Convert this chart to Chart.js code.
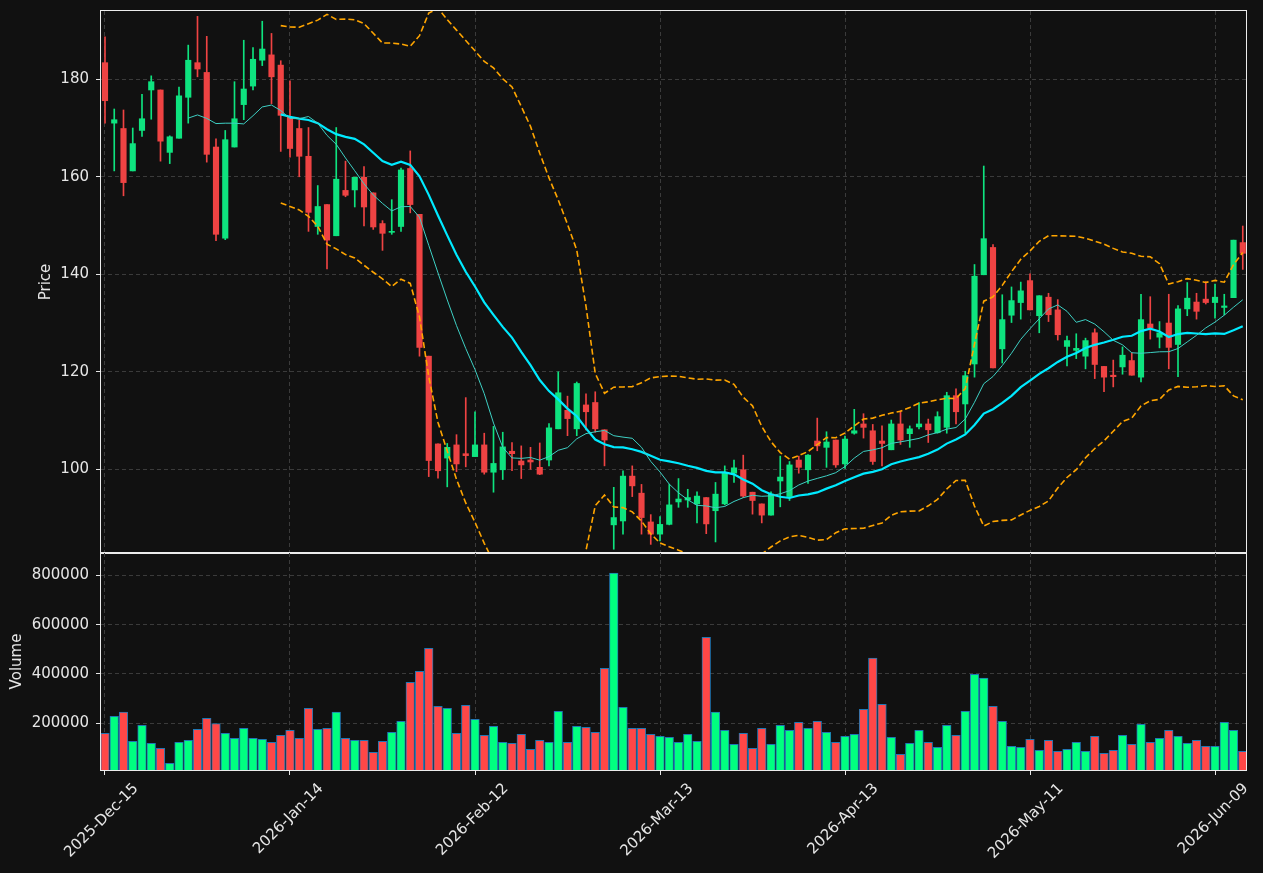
<!DOCTYPE html>
<html>
<head>
<meta charset="utf-8">
<script src="https://cdn.jsdelivr.net/npm/chart.js@4.4.1/dist/chart.umd.min.js"></script>
<style>
  html, body { margin: 0; padding: 0; background: #111111; }
  #wrap { position: relative; width: 1263px; height: 873px; background: #111111; overflow: hidden; }
  #priceChart { position: absolute; left: 0; top: 0; }
  #volChart { position: absolute; left: 0; top: 540px; }
</style>
</head>
<body>
<div id="wrap">
  <canvas id="priceChart" width="1263" height="554"></canvas>
  <canvas id="volChart" width="1263" height="333"></canvas>
</div>
<script>
// daily bars, trading days only
const firstDay = '2025-12-15';
const holidays = ['2025-12-25', '2026-01-01', '2026-01-19', '2026-02-16', '2026-04-03', '2026-05-25'];

const opens = [183.4, 171.0, 169.9, 161.2, 169.5, 177.8, 177.8, 165.0, 167.9, 176.3,
  183.4, 181.4, 166.1, 147.4, 166.1, 174.8, 178.6, 183.9, 185.0, 182.9,
  172.2, 169.9, 164.2, 149.8, 154.3, 147.9, 157.2, 157.3, 159.9, 156.7,
  150.4, 148.6, 149.8, 161.7, 152.3, 123.2, 105.2, 102.3, 105.0, 103.2,
  102.6, 105.0, 99.4, 99.9, 103.7, 101.7, 101.9, 100.4, 101.9, 108.3,
  112.1, 108.3, 113.2, 113.7, 108.1, 88.6, 89.4, 98.6, 95.1, 89.2,
  86.7, 88.7, 93.3, 93.7, 92.9, 94.2, 91.5, 92.9, 99.2, 99.9,
  95.3, 92.9, 90.6, 97.6, 94.4, 101.9, 99.9, 105.8, 104.5, 106.0,
  101.1, 107.4, 109.3, 107.9, 105.8, 104.0, 109.3, 107.3, 108.7, 109.3,
  107.5, 108.6, 115.1, 113.4, 121.6, 139.9, 145.5, 124.7, 131.6, 134.2,
  138.7, 131.5, 135.3, 132.7, 125.2, 124.4, 123.2, 128.0, 121.1, 119.3,
  121.0, 122.3, 118.9, 129.8, 127.1, 130.0, 125.6, 132.9, 134.3, 134.9,
  134.2, 133.2, 135.2, 146.5];
const highs = [188.7, 173.9, 173.7, 170.0, 176.9, 180.7, 177.8, 168.4, 178.4, 187.0,
  192.9, 188.8, 167.8, 169.5, 179.5, 188.0, 186.5, 191.9, 189.4, 183.8,
  179.7, 171.6, 170.1, 158.2, 154.3, 170.1, 163.2, 159.9, 162.1, 156.7,
  151.0, 155.3, 161.8, 165.3, 152.3, 123.2, 105.2, 105.3, 107.1, 114.7,
  111.8, 107.4, 108.8, 107.6, 105.5, 104.8, 104.5, 105.4, 109.4, 120.0,
  115.0, 117.9, 115.5, 115.9, 108.1, 96.3, 99.7, 100.7, 96.9, 90.7,
  90.3, 96.9, 98.1, 95.9, 95.4, 94.2, 97.3, 100.7, 101.9, 102.9,
  95.3, 92.9, 95.4, 102.7, 101.6, 102.7, 103.0, 110.5, 107.7, 106.0,
  106.8, 112.3, 111.4, 109.2, 108.9, 110.1, 112.0, 108.9, 113.7, 110.3,
  111.8, 115.8, 116.5, 120.1, 142.0, 162.2, 146.1, 135.8, 137.4, 138.4,
  140.1, 135.6, 136.1, 134.8, 127.3, 127.8, 126.9, 128.8, 121.1, 122.4,
  125.1, 123.9, 135.9, 135.4, 130.3, 135.9, 133.6, 138.3, 136.1, 138.5,
  138.0, 135.9, 147.0, 149.9];
const lows = [171.0, 161.2, 156.1, 161.2, 168.3, 171.8, 163.2, 162.7, 167.9, 171.0,
  180.5, 163.0, 146.9, 147.1, 166.1, 171.7, 177.8, 182.8, 175.0, 165.2,
  164.0, 160.0, 148.8, 148.2, 141.1, 147.9, 155.9, 153.8, 149.9, 149.2,
  144.9, 148.2, 148.8, 152.6, 123.2, 98.5, 98.2, 96.4, 99.5, 100.5,
  102.6, 99.0, 95.3, 97.9, 99.7, 98.1, 100.0, 98.9, 100.7, 108.3,
  106.9, 106.9, 108.1, 107.6, 100.7, 83.6, 86.7, 94.4, 86.7, 84.6,
  85.3, 88.6, 92.2, 92.2, 89.0, 86.8, 85.1, 92.7, 97.3, 94.2,
  90.8, 89.0, 90.6, 92.3, 93.6, 99.2, 97.1, 103.8, 100.4, 100.4,
  100.2, 107.2, 106.4, 101.0, 100.7, 104.0, 105.1, 104.5, 108.3, 105.5,
  107.4, 107.4, 109.3, 107.4, 118.9, 139.9, 120.8, 121.8, 130.1, 130.8,
  132.7, 128.0, 130.3, 126.5, 121.2, 122.7, 120.6, 118.6, 115.9, 116.9,
  119.5, 119.3, 117.9, 126.7, 124.9, 120.6, 119.0, 131.5, 130.8, 133.9,
  131.0, 131.7, 135.2, 141.0];
const closes = [175.6, 171.7, 158.8, 166.8, 171.9, 179.5, 167.3, 168.2, 176.6, 183.9,
  182.1, 164.6, 148.2, 167.6, 171.9, 178.0, 184.1, 186.2, 180.5, 172.6,
  165.8, 164.2, 152.7, 153.9, 147.0, 159.5, 156.2, 159.9, 153.8, 149.7,
  148.4, 148.8, 161.4, 154.3, 125.0, 101.8, 99.7, 104.5, 101.1, 102.8,
  105.0, 99.4, 101.2, 104.6, 103.2, 100.9, 101.5, 99.0, 108.5, 115.7,
  110.4, 117.6, 111.8, 108.3, 106.0, 90.1, 98.6, 96.6, 90.1, 86.7,
  88.7, 92.7, 93.9, 94.2, 94.5, 88.8, 94.9, 99.3, 100.3, 94.5,
  93.6, 90.6, 94.9, 98.4, 100.9, 100.4, 102.9, 104.8, 105.6, 100.9,
  106.2, 107.9, 108.6, 101.6, 105.3, 109.3, 106.0, 108.3, 109.3, 108.1,
  110.8, 115.1, 111.8, 119.2, 139.6, 147.3, 120.8, 130.7, 134.6, 136.6,
  132.7, 135.6, 131.7, 127.6, 126.4, 124.8, 126.4, 121.5, 118.9, 119.0,
  123.4, 119.3, 130.7, 129.0, 128.0, 125.0, 132.9, 135.1, 132.4, 134.2,
  135.3, 133.5, 147.0, 144.3];
const volumes = [159000, 228000, 245000, 127000, 192000, 119000, 99000, 38000, 123000, 131000,
  176000, 220000, 199000, 159000, 139000, 180000, 139000, 135000, 123000, 151000,
  172000, 139000, 261000, 176000, 180000, 245000, 139000, 131000, 131000, 82000,
  127000, 163000, 208000, 366000, 411000, 504000, 269000, 261000, 159000, 273000,
  216000, 151000, 188000, 123000, 119000, 155000, 95000, 131000, 123000, 249000,
  123000, 188000, 184000, 163000, 423000, 809000, 265000, 180000, 180000, 155000,
  147000, 143000, 123000, 155000, 127000, 549000, 245000, 172000, 115000, 159000,
  99000, 180000, 115000, 192000, 172000, 204000, 180000, 208000, 163000, 123000,
  147000, 155000, 257000, 464000, 277000, 143000, 74000, 119000, 172000, 123000,
  103000, 192000, 151000, 249000, 399000, 383000, 269000, 208000, 107000, 103000,
  135000, 90000, 131000, 86000, 95000, 123000, 86000, 147000, 78000, 90000,
  151000, 115000, 196000, 123000, 139000, 172000, 147000, 119000, 131000, 107000,
  107000, 204000, 172000, 86000];

const xTickIdx = [0, 20, 40, 60, 80, 100, 120];
const priceTicks = [100, 120, 140, 160, 180];
const volumeTicks = [200000, 400000, 600000, 800000];

// date labels
const monthNames = ['Jan', 'Feb', 'Mar', 'Apr', 'May', 'Jun', 'Jul', 'Aug', 'Sep', 'Oct', 'Nov', 'Dec'];
const dates = [];
for (let d = new Date(firstDay + 'T00:00:00Z'); dates.length < closes.length; d.setUTCDate(d.getUTCDate() + 1)) {
  const wd = d.getUTCDay();
  const iso = d.toISOString().slice(0, 10);
  if (wd === 0 || wd === 6 || holidays.includes(iso)) continue;
  dates.push(d.getUTCFullYear() + '-' + monthNames[d.getUTCMonth()] + '-' + String(d.getUTCDate()).padStart(2, '0'));
}

// moving averages and bands from the closes
const mean = a => a.reduce((s, v) => s + v, 0) / a.length;
const sdev = a => { const m = mean(a); return Math.sqrt(mean(a.map(v => (v - m) * (v - m)))); };
function rolling(win, fn) {
  const out = [];
  for (let i = win - 1; i < closes.length; i++) {
    out.push({ x: i, y: fn(closes.slice(i - win + 1, i + 1)) });
  }
  return out;
}
const ma10 = rolling(10, mean);
const ma20 = rolling(20, mean);
const bandUp = rolling(20, w => mean(w) + 2 * sdev(w));
const bandLo = rolling(20, w => mean(w) - 2 * sdev(w));

const isUp = closes.map((c, i) => c >= opens[i]);
const candleCol = isUp.map(u => u ? '#0ee37f' : '#ef4343');
const volCol = isUp.map(u => u ? '#00ff80' : '#ff4747');

const bodies = closes.map((c, i) => ({ x: i, y: [opens[i], c] }));
const wicks = closes.map((c, i) => ({ x: i, y: [lows[i], highs[i]] }));
const volBars = volumes.map((v, i) => ({ x: i, y: v }));

const TEXT = '#e6e6e6';
const GRID = '#3b3b3b';
const FONT = { family: 'DejaVu Sans', size: 15 };
const X_MIN = -0.432, X_MAX = 123.35;

const frame = {
  id: 'frame',
  afterDraw(chart) {
    const a = chart.chartArea;
    const ctx = chart.ctx;
    ctx.save();
    ctx.strokeStyle = '#ececec';
    ctx.lineWidth = 1;
    ctx.strokeRect(Math.round(a.left) - 0.5, Math.round(a.top) - 0.5,
      Math.round(a.right - a.left) + 1, Math.round(a.bottom - a.top) + 1);
    ctx.restore();
  }
};

function noPad(s) {
  s.paddingTop = 0;
  s.paddingBottom = 0;
}

function xScale(showLabels) {
  return {
    type: 'linear', min: X_MIN, max: X_MAX, offset: false,
    afterBuildTicks: s => { s.ticks = xTickIdx.map(v => ({ value: v })); },
    afterFit: s => { s.height = showLabels ? 103 : 1; noPad(s); },
    ticks: {
      display: showLabels, color: TEXT, font: FONT, autoSkip: false,
      minRotation: 45, maxRotation: 45, padding: 5, labelOffset: 31,
      callback: v => dates[v]
    },
    grid: { color: GRID, offset: false, drawTicks: showLabels, tickColor: TEXT, tickLength: 5, tickBorderDash: [], tickWidth: 1 },
    border: { display: false, dash: [4, 3] }
  };
}

new Chart(document.getElementById('priceChart'), {
  type: 'bar',
  data: {
    datasets: [
      { type: 'line', data: ma10, borderColor: '#3ed0c4', borderWidth: 1, pointRadius: 0, clip: 0, order: 0 },
      { type: 'line', data: ma20, borderColor: '#00eaff', borderWidth: 2.2, pointRadius: 0, clip: 0, order: 0 },
      { type: 'line', data: bandUp, borderColor: '#ffa500', borderWidth: 1.6, borderDash: [6, 3], pointRadius: 0, clip: 0, order: 0 },
      { type: 'line', data: bandLo, borderColor: '#ffa500', borderWidth: 1.6, borderDash: [6, 3], pointRadius: 0, clip: 0, order: 0 },
      { data: bodies, backgroundColor: candleCol, barThickness: 5.5, grouped: false, minBarLength: 1, clip: 0, order: 1 },
      { data: wicks, backgroundColor: candleCol, barThickness: 1, grouped: false, clip: 0, order: 2 }
    ]
  },
  options: {
    responsive: false, animation: false, devicePixelRatio: 1,
    layout: { padding: { top: 11, right: 17, left: 0, bottom: 0 } },
    plugins: { legend: { display: false }, tooltip: { enabled: false } },
    scales: {
      x: xScale(false),
      y: {
        min: 82.83, max: 194.0,
        afterBuildTicks: s => { s.ticks = priceTicks.map(v => ({ value: v })); },
        afterFit: s => { s.width = 101; noPad(s); },
        ticks: { color: TEXT, font: FONT, padding: 7 },
        grid: { color: GRID, tickColor: TEXT, tickLength: 5, tickBorderDash: [], tickWidth: 1 },
        border: { display: false, dash: [4, 3] },
        title: { display: true, text: 'Price', color: TEXT, font: FONT, padding: { top: 37, bottom: 0 } }
      }
    }
  },
  plugins: [frame]
});

new Chart(document.getElementById('volChart'), {
  type: 'bar',
  data: {
    datasets: [
      { data: volBars, backgroundColor: volCol, borderColor: '#1f77b4', borderWidth: 1, barThickness: 8.6, grouped: false, clip: 0 }
    ]
  },
  options: {
    responsive: false, animation: false, devicePixelRatio: 1,
    layout: { padding: { top: 13, right: 17, left: 0, bottom: 0 } },
    plugins: { legend: { display: false }, tooltip: { enabled: false } },
    scales: {
      x: xScale(true),
      y: {
        min: 10700, max: 890400,
        afterBuildTicks: s => { s.ticks = volumeTicks.map(v => ({ value: v })); },
        afterFit: s => { s.width = 101; noPad(s); },
        ticks: { color: TEXT, font: FONT, padding: 7, callback: v => String(v) },
        grid: { color: GRID, tickColor: TEXT, tickLength: 5, tickBorderDash: [], tickWidth: 1 },
        border: { display: false, dash: [4, 3] },
        title: { display: true, text: 'Volume', color: TEXT, font: FONT, padding: { top: 8, bottom: 0 } }
      }
    }
  },
  plugins: [frame]
});
</script>
</body>
</html>
